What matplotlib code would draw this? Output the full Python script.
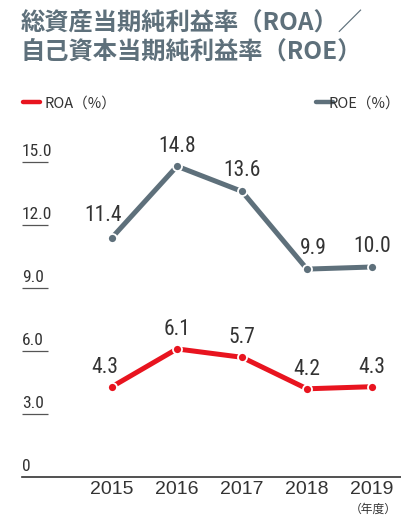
import matplotlib
matplotlib.use("Agg")
import matplotlib.pyplot as plt
from matplotlib import font_manager as fm
from matplotlib.lines import Line2D
import matplotlib.transforms as mtransforms

# data
years = ["2015", "2016", "2017", "2018", "2019"]
roa = [4.3, 6.1, 5.7, 4.2, 4.3]
roe = [11.4, 14.8, 13.6, 9.9, 10.0]
y_ticks = [0, 3, 6, 9, 12, 15]
y_labels = ["0", "3.0", "6.0", "9.0", "12.0", "15.0"]

RED = "#e8141f"
GRAY = "#5e707b"
TEXT = "#333333"
W, H = 401, 515

# look for a narrow face for the numbers
fonts = fm.fontManager.ttflist
names = {f.name for f in fonts}
narrow = None
for n in ["Roboto Condensed", "Liberation Sans Narrow", "Open Sans Condensed", "Noto Sans Condensed"]:
    if n in names:
        narrow = dict(family=n)
        break
if narrow is None:
    cond = [f for f in fonts if f.stretch in ("condensed", "semi-condensed", "extra-condensed")
            and f.style == "normal" and f.weight in (400, "normal", "regular")]
    if cond:
        narrow = dict(family=cond[0].name, stretch=cond[0].stretch)
if narrow is None:
    num_font, num_scale = dict(family="Roboto"), 0.85
else:
    num_font, num_scale = narrow, 1.0
cjk = ["Noto Sans CJK JP", "DejaVu Sans"]


def fx(x):
    return x / W


def fy(y):
    return 1 - y / H


fig = plt.figure(figsize=(W / 100, H / 100), dpi=100)

# axes: left edge 22px, zero line at 477px, 21px per unit
ax = fig.add_axes([fx(22), fy(477), (W - 22) / W, 336 / H])
ax.set_ylim(0, 16)
ax.set_xlim((22 - 112) / 65, (W - 112) / 65)
for s in ["top", "right", "left"]:
    ax.spines[s].set_visible(False)
ax.spines["bottom"].set_color(TEXT)
ax.spines["bottom"].set_linewidth(1.2)
ax.set_yticks([])

xs = list(range(len(years)))
ax.set_xticks(xs)
ax.set_xticklabels(years, fontsize=14, color=TEXT, family="Liberation Sans")
ax.tick_params(axis="x", length=0, pad=3)

# y labels with short underlines
blend = mtransforms.blended_transform_factory(ax.transAxes, ax.transData)
for v, lab in zip(y_ticks, y_labels):
    ax.annotate(lab, (0, v), xycoords=blend, xytext=(0, 3),
                textcoords="offset pixels", ha="left", va="bottom",
                fontsize=12.5 * num_scale, color=TEXT, **num_font)
    if v > 0:
        ax.plot([0, 26 / (W - 22)], [v, v], transform=blend, color="#555555",
                lw=0.9, solid_capstyle="butt")

# lines
for vals, col in [(roe, GRAY), (roa, RED)]:
    ax.plot(xs, vals, color=col, lw=3.6, solid_capstyle="round", zorder=3)
    ax.plot(xs, vals, "o", color=col, ms=6.5, mec="white", mew=1.3, zorder=4)

# value labels
roe_dx = [-9, 0, 0, 6, 0]
roe_dy = [12, 9, 10, 10, 10]
roa_dx = [-7, 0, 0, 0, 0]
roa_dy = [9, 9, 9, 9, 9]
for vals, dxs, dys in [(roe, roe_dx, roe_dy), (roa, roa_dx, roa_dy)]:
    for x, v, dx, dy in zip(xs, vals, dxs, dys):
        ax.annotate(f"{v:.1f}", (x, v), xytext=(dx, dy), textcoords="offset pixels",
                    ha="center", va="bottom", fontsize=15.5 * num_scale, color=TEXT,
                    **num_font)

# unit under last year
fig.text(fx(373), fy(513), "（年度）", ha="center", va="baseline",
         fontsize=8.5, color=TEXT, family=cjk)

# title
fig.text(fx(21), fy(31), "総資産当期純利益率（ROA）／", fontsize=17.5,
         fontweight="bold", color=GRAY, family=cjk, va="baseline")
fig.text(fx(21), fy(59), "自己資本当期純利益率（ROE）", fontsize=17.5,
         fontweight="bold", color=GRAY, family=cjk, va="baseline")

# legend
fig.add_artist(Line2D([fx(23), fx(40)], [fy(101.5), fy(101.5)], color=RED,
                      lw=3.2, solid_capstyle="round"))
fig.text(fx(45), fy(108), "ROA（%）", fontsize=10.5, color=TEXT, family=cjk,
         va="baseline")
fig.add_artist(Line2D([fx(316), fx(333)], [fy(101.5), fy(101.5)], color=GRAY,
                      lw=3.2, solid_capstyle="round"))
fig.text(fx(400), fy(108), "ROE（%）", fontsize=10.5, color=TEXT, family=cjk,
         va="baseline", ha="right")

fig.savefig("out.png", dpi=100)
